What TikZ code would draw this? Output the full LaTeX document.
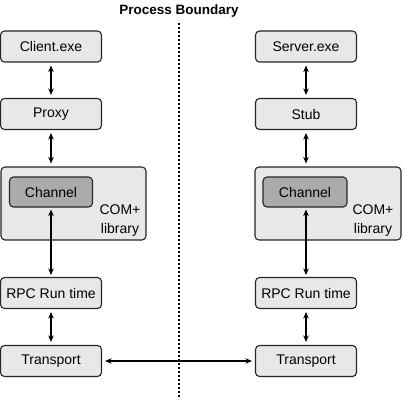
\documentclass[tikz,border=0pt]{standalone}
\usepackage{fontspec}
\setmainfont{Liberation Sans}
\usetikzlibrary{arrows.meta}
\begin{document}
\begin{tikzpicture}[x=1pt,y=-1pt,
  box/.style={draw=black!85, line width=1.1pt, rounded corners=4pt, fill=black!9, font=\fontsize{14}{15}\selectfont, inner sep=0pt},
  small/.style={box, minimum width=101pt, minimum height=31pt},
  lib/.style={box, minimum height=73pt},
  chan/.style={box, fill=black!33, minimum height=30pt},
  lbl/.style={font=\fontsize{14}{19}\selectfont, align=center, inner sep=0pt},
  con/.style={line width=1.6pt, {Stealth[length=6.5pt,width=5.5pt]}-{Stealth[length=6.5pt,width=5.5pt]}}
]
\useasboundingbox (0,0) rectangle (404,401);
\node[font=\bfseries\fontsize{13.5}{15}\selectfont, inner sep=0pt] (title) at (179,11) {Process Boundary};
\coordinate (dtop) at (179,23);
\coordinate (dbot) at (179,399);
\draw[line width=1.6pt, dash pattern=on 2pt off 2pt] (dtop) -- (dbot);

% left column
\node[small] (client) at (51,46.5) {Client.exe};
\node[small] (proxy) at (51,114) {Proxy};
\node[lib, minimum width=145pt] (llib) at (73.5,203.5) {};
\node[chan, minimum width=83pt] (lchan) at (51,192) {Channel};
\node[lbl] (lcom) at (120,220.5) {COM+\\library};
\node[small] (lrpc) at (51,293) {RPC Run time};
\node[small] (ltrans) at (51,361) {Transport};

% right column
\node[small] (server) at (306,46.5) {Server.exe};
\node[small] (stub) at (306,114) {Stub};
\node[lib, minimum width=146pt] (rlib) at (328,203.5) {};
\node[chan, minimum width=84pt] (rchan) at (305,192) {Channel};
\node[lbl] (rcom) at (373,220.5) {COM+\\library};
\node[small] (rrpc) at (306,293) {RPC Run time};
\node[small] (rtrans) at (306,361) {Transport};

% connectors
\draw[con, shorten <=3pt, shorten >=3pt] (client.south) -- (proxy.north);
\draw[con, shorten <=3pt, shorten >=3pt] (proxy.south) -- (proxy.south |- llib.north);
\draw[con, shorten <=2pt, shorten >=2pt] (lrpc.north) -- (lrpc.north |- lchan.south);
\draw[con, shorten <=3pt, shorten >=3pt] (lrpc.south) -- (ltrans.north);

\draw[con, shorten <=3pt, shorten >=3pt] (server.south) -- (stub.north);
\draw[con, shorten <=3pt, shorten >=3pt] (stub.south) -- (stub.south |- rlib.north);
\draw[con, shorten <=2pt, shorten >=2pt] (rrpc.north) -- (rrpc.north |- rchan.south);
\draw[con, shorten <=3pt, shorten >=3pt] (rrpc.south) -- (rtrans.north);

\draw[con, shorten <=3pt, shorten >=3pt] (ltrans.east) -- (rtrans.west);
\end{tikzpicture}
\end{document}
